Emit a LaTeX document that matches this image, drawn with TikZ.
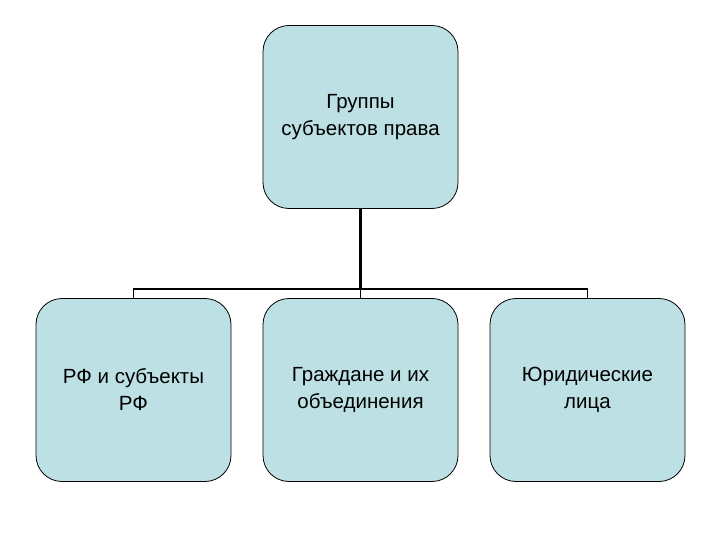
\documentclass[tikz,border=0pt]{standalone}
\usepackage{fontspec}
\setmainfont{Liberation Sans}
\usetikzlibrary{positioning}
\definecolor{boxfill}{RGB}{189,224,228}

\begin{document}
\begin{tikzpicture}[x=1pt, y=-1pt,
    group/.style={draw=black, line width=0.8pt, fill=boxfill, rounded corners=26pt,
      minimum width=195pt, minimum height=183pt, align=center,
      font=\fontsize{20.5}{27}\selectfont, inner sep=0pt}]
    \useasboundingbox (0,0) rectangle (720,540);
    \node[group] (top) at (360.5,117) {Группы\\субъектов права};
    \node[group] (rf) at (133.5,390) {РФ и субъекты\\РФ};
    \node[group] (cit) at (360.5,390) {Граждане и их\\объединения};
    \node[group] (jur) at (587.5,390) {Юридические\\лица};
    \coordinate (bus) at (360.5,289);
    \draw[line width=2.5pt] (top.south) -- (top.south |- bus);
    \draw[line width=1.5pt] (rf.north) -- (rf.north |- bus) -| (jur.north);
    \draw[line width=1pt] (cit.north) -- (cit.north |- bus);
  \end{tikzpicture}
\end{document}
